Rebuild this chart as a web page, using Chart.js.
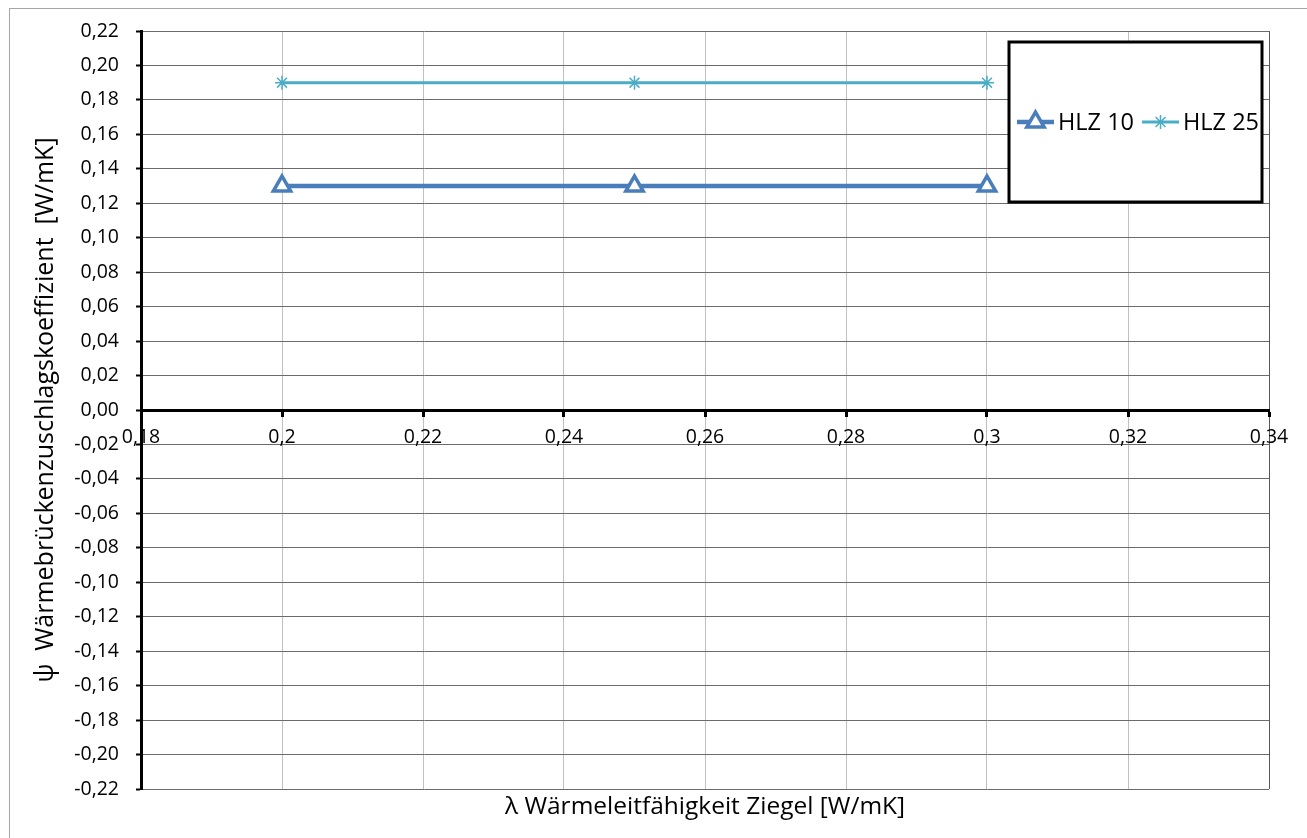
<!DOCTYPE html>
<html lang="de">
  <head>
    <meta charset="UTF-8" />
    <title>Wärmebrückenzuschlagskoeffizient</title>
    <script src="https://cdn.jsdelivr.net/npm/chart.js"></script>
    <style>
      body { margin: 0; background: #fff; }
      #wrap { width: 1307px; height: 838px; position: relative; }
    </style>
  </head>
  <body>
    <div id="wrap"><canvas id="psiChart"></canvas></div>

    <script>
      // Daten
      const lambda = [0.2, 0.25, 0.3];
      const hlz10 = [0.13, 0.13, 0.13];
      const hlz25 = [0.19, 0.19, 0.19];
      const seriesNames = ["HLZ 10", "HLZ 25"];

      const xTickValues = [0.18, 0.2, 0.22, 0.24, 0.26, 0.28, 0.3, 0.32, 0.34];
      const xTickLabels = ["0,18", "0,2", "0,22", "0,24", "0,26", "0,28", "0,3", "0,32", "0,34"];
      const yTickValues = [
        -0.22, -0.2, -0.18, -0.16, -0.14, -0.12, -0.1, -0.08, -0.06, -0.04, -0.02, 0,
        0.02, 0.04, 0.06, 0.08, 0.1, 0.12, 0.14, 0.16, 0.18, 0.2, 0.22,
      ];
      const yTickLabels = [
        "-0,22", "-0,20", "-0,18", "-0,16", "-0,14", "-0,12", "-0,10", "-0,08", "-0,06", "-0,04", "-0,02", "0,00",
        "0,02", "0,04", "0,06", "0,08", "0,10", "0,12", "0,14", "0,16", "0,18", "0,20", "0,22",
      ];

      const xTitle = "λ Wärmeleitfähigkeit Ziegel [W/mK]";
      const yTitle = "ψ  Wärmebrückenzuschlagskoeffizient  [W/mK]";

      const FONT = '"Open Sans", "Liberation Sans", sans-serif';

      // Rahmen + Achsentitel + Legende (Excel-Stil)
      const excelLook = {
        id: "excelLook",
        beforeDraw(chart) {
          const ctx = chart.ctx;
          ctx.save();
          ctx.strokeStyle = "#a6a6a6";
          ctx.lineWidth = 1;
          ctx.strokeRect(9.5, 8.5, 1400, 900);
          ctx.restore();
        },
        afterDraw(chart) {
          const ctx = chart.ctx;
          const a = chart.chartArea;
          ctx.save();
          ctx.fillStyle = "#000";
          ctx.textAlign = "center";
          ctx.textBaseline = "middle";
          ctx.font = "24.5px " + FONT;
          ctx.fillText(xTitle, (a.left + a.right) / 2, 807);
          ctx.translate(46, (a.top + a.bottom) / 2);
          ctx.rotate(-Math.PI / 2);
          ctx.font = "25px " + FONT;
          ctx.fillText(yTitle, 0, 0);
          ctx.restore();

          // Legende
          const x0 = a.right - 260, y0 = a.top + 11, w = 253, h = 160;
          ctx.save();
          ctx.fillStyle = "#fff";
          ctx.fillRect(x0, y0, w, h);
          ctx.strokeStyle = "#000";
          ctx.lineWidth = 3;
          ctx.strokeRect(x0, y0, w, h);
          const cy = y0 + h / 2;
          ctx.font = "23.5px " + FONT;
          ctx.textBaseline = "middle";
          ctx.textAlign = "left";
          let x = x0 + 8;
          chart.data.datasets.forEach((ds) => {
            const len = 37;
            ctx.strokeStyle = ds.borderColor;
            ctx.lineWidth = ds.borderWidth;
            ctx.beginPath();
            ctx.moveTo(x, cy);
            ctx.lineTo(x + len, cy);
            ctx.stroke();
            const mx = x + len / 2;
            const r = ds.pointRadius;
            ctx.lineWidth = ds.pointBorderWidth;
            ctx.strokeStyle = ds.pointBorderColor;
            ctx.beginPath();
            if (ds.pointStyle === "triangle") {
              for (let k = 0; k < 3; k++) {
                const ang = (k * 2 * Math.PI) / 3;
                const px = mx + Math.sin(ang) * r;
                const py = cy - Math.cos(ang) * r;
                k === 0 ? ctx.moveTo(px, py) : ctx.lineTo(px, py);
              }
              ctx.closePath();
              ctx.fillStyle = ds.pointBackgroundColor;
              ctx.fill();
            } else {
              for (let k = 0; k < 4; k++) {
                const ang = (k * Math.PI) / 4;
                ctx.moveTo(mx + Math.cos(ang) * r, cy + Math.sin(ang) * r);
                ctx.lineTo(mx - Math.cos(ang) * r, cy - Math.sin(ang) * r);
              }
            }
            ctx.stroke();
            x += len + 4;
            ctx.fillStyle = "#000";
            ctx.fillText(ds.label, x, cy + 1);
            x += ctx.measureText(ds.label).width + 8;
          });
          ctx.restore();
        },
      };

      const pts = (ys) => lambda.map((v, i) => ({ x: v, y: ys[i] }));

      new Chart(document.getElementById("psiChart"), {
        type: "scatter",
        data: {
          datasets: [
            {
              label: seriesNames[0],
              data: pts(hlz10),
              showLine: true,
              borderColor: "#4a7ebb",
              borderWidth: 4.5,
              pointStyle: "triangle",
              pointRadius: 10,
              pointHoverRadius: 10,
              pointBorderWidth: 3.5,
              pointBorderColor: "#4a7ebb",
              pointBackgroundColor: "#fff",
            },
            {
              label: seriesNames[1],
              data: pts(hlz25),
              showLine: true,
              borderColor: "#4bacc6",
              borderWidth: 3,
              pointStyle: "star",
              pointRadius: 7,
              pointHoverRadius: 7,
              pointBorderWidth: 1.5,
              pointBorderColor: "#4bacc6",
              pointBackgroundColor: "#4bacc6",
            },
          ],
        },
        options: {
          responsive: true,
          maintainAspectRatio: false,
          animation: false,
          layout: { padding: { top: 31, right: 38, bottom: 49, left: 0 } },
          plugins: { legend: { display: false }, tooltip: { enabled: false } },
          scales: {
            x: {
              type: "linear",
              position: { y: 0 },
              min: 0.18,
              max: 0.34,
              afterBuildTicks: (s) => { s.ticks = xTickValues.map((v) => ({ value: v })); },
              ticks: {
                callback: (v, i) => xTickLabels[i],
                color: "#000",
                font: { family: FONT, size: 19.5 },
                padding: 11,
                maxRotation: 0,
                autoSkip: false,
              },
              grid: {
                color: (c) => {
                  const v = c.tick ? c.tick.value : null;
                  if (v === 0.18) return "rgba(0,0,0,0)";
                  if (v === 0.34) return "#595959";
                  return "#c0c0c0";
                },
                lineWidth: 1,
                tickColor: "#000",
                tickLength: 5,
                tickWidth: 3,
              },
              border: { color: "#000", width: 3 },
            },
            y: {
              type: "linear",
              position: "left",
              min: -0.22,
              max: 0.22,
              afterFit: (s) => { s.width = 141; },
              afterBuildTicks: (s) => { s.ticks = yTickValues.map((v) => ({ value: v })); },
              ticks: {
                callback: (v, i) => yTickLabels[i],
                color: "#000",
                font: { family: FONT, size: 19.5 },
                padding: 17,
                autoSkip: false,
              },
              grid: {
                color: (c) => (c.tick && c.tick.value === 0 ? "rgba(0,0,0,0)" : "#6b6b6b"),
                lineWidth: 1,
                tickColor: "#000",
                tickLength: 5,
                tickWidth: 2,
              },
              border: { color: "#000", width: 3 },
            },
          },
        },
        plugins: [excelLook],
      });
    </script>
  </body>
</html>
